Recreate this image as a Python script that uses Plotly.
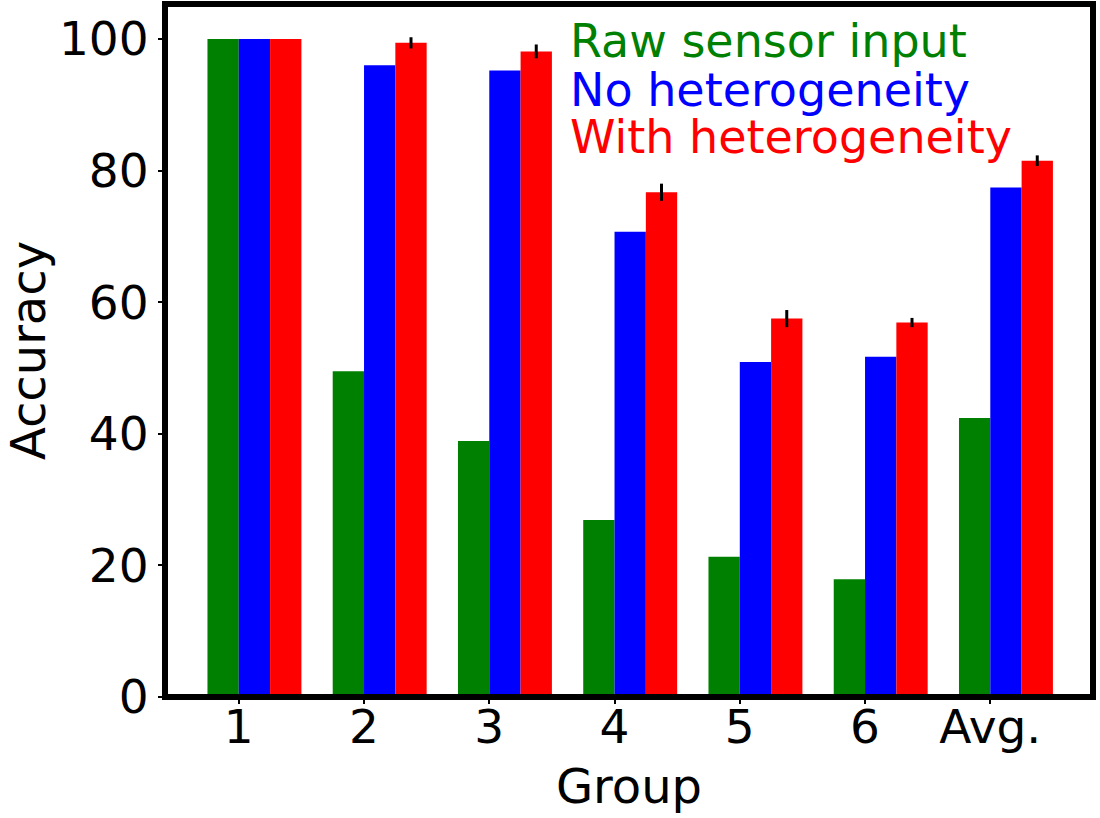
import plotly.graph_objects as go

groups = [1, 2, 3, 4, 5, 6, 7]
group_labels = ["1", "2", "3", "4", "5", "6", "Avg."]
series_names = ["Raw sensor input", "No heterogeneity", "With heterogeneity"]
series_colors = ["#008000", "#0000FF", "#FF0000"]

raw_sensor = [100, 49.5, 38.9, 26.9, 21.3, 17.9, 42.4]
no_hetero = [100, 96.0, 95.2, 70.7, 50.9, 51.7, 77.4]
with_hetero = [100, 99.4, 98.1, 76.7, 57.5, 56.9, 81.5]
with_hetero_err = [0, 0.85, 1.05, 1.3, 1.3, 0.7, 0.8]

y_ticks = [0, 20, 40, 60, 80, 100]

BAR_W = 0.25
bar_offsets = [-0.25, 0.0, 0.25]

FONT = "DejaVu Sans"

fig = go.Figure()
fig.add_trace(go.Bar(x=groups, y=raw_sensor, name=series_names[0],
                     width=BAR_W, offset=bar_offsets[0],
                     marker=dict(color=series_colors[0], line=dict(width=0))))
fig.add_trace(go.Bar(x=groups, y=no_hetero, name=series_names[1],
                     width=BAR_W, offset=bar_offsets[1],
                     marker=dict(color=series_colors[1], line=dict(width=0))))
fig.add_trace(go.Bar(x=groups, y=with_hetero, name=series_names[2],
                     width=BAR_W, offset=bar_offsets[2],
                     marker=dict(color=series_colors[2], line=dict(width=0)),
                     error_y=dict(type="data", array=with_hetero_err, visible=True,
                                  color="black", thickness=3, width=0)))

# text legend
legend_y = [0.946, 0.876, 0.808]
for name, col, yy in zip(series_names, series_colors, legend_y):
    fig.add_annotation(x=0.434, y=yy, xref="paper", yref="paper",
                       text=name, showarrow=False, xanchor="left", yanchor="middle",
                       font=dict(family=FONT, size=46, color=col))

fig.add_shape(type="rect", xref="paper", yref="paper", x0=0, x1=1, y0=0, y1=1,
              line=dict(color="black", width=6), layer="above")

fig.update_layout(
    width=1100, height=818,
    margin=dict(l=165, r=7, t=4, b=121, autoexpand=False),
    barmode="overlay",
    plot_bgcolor="white", paper_bgcolor="white",
    showlegend=False,
    font=dict(family=FONT, color="black"),
    xaxis=dict(range=[0.411, 7.82], tickvals=groups, ticktext=group_labels,
               ticks="outside", ticklen=6, tickwidth=1.5, tickcolor="black",
               showgrid=False, zeroline=False, showline=False, automargin=False,
               ticklabelstandoff=-17,
               tickfont=dict(family=FONT, size=47, color="black"),
               title=dict(text="Group", font=dict(family=FONT, size=48, color="black"), standoff=15)),
    yaxis=dict(range=[0, 105.3], tickvals=y_ticks,
               ticks="outside", ticklen=6, tickwidth=1.5, tickcolor="black",
               showgrid=False, zeroline=False, showline=False, automargin=False,
               tickfont=dict(family=FONT, size=47, color="black"),
               title=dict(text="Accuracy", font=dict(family=FONT, size=48, color="black"), standoff=27)),
)

fig.write_html("out.html")
